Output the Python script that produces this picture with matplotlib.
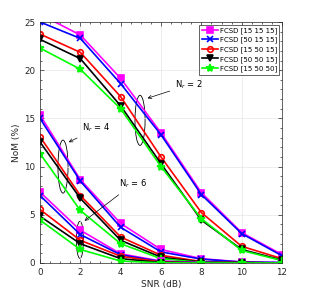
import numpy as np
import matplotlib.pyplot as plt
from matplotlib.patches import Ellipse

snr = [0, 2, 4, 6, 8, 10, 12]
labels = ['FCSD [15 15 15]', 'FCSD [50 15 15]', 'FCSD [15 50 15]',
          'FCSD [50 50 15]', 'FCSD [15 50 50]']
colors = ['#ff00ff', '#0000ff', '#ff0000', '#000000', '#00ff00']
markers = ['s', 'x', 'o', 'v', '*']

# NoM (%) for Nr = 2
nr2 = [[25.8, 23.65, 19.15, 13.5, 7.3, 3.15, 0.87],
       [25.0, 23.3, 18.6, 13.3, 7.1, 3.05, 0.75],
       [23.75, 21.85, 17.25, 11.0, 5.23, 1.73, 0.45],
       [23.2, 21.2, 16.3, 10.3, 4.45, 1.4, 0.3],
       [22.3, 20.1, 16.0, 10.0, 4.6, 1.3, 0.25]]
# Nr = 4
nr4 = [[15.35, 8.65, 4.1, 1.4, 0.45, 0.1, 0.05],
       [15.0, 8.5, 3.7, 1.15, 0.4, 0.1, 0.05],
       [13.1, 7.0, 2.7, 0.8, 0.15, 0.05, 0.0],
       [12.55, 6.7, 2.35, 0.6, 0.1, 0.05, 0.0],
       [11.35, 5.45, 2.0, 0.45, 0.05, 0.02, 0.0]]
# Nr = 6
nr6 = [[7.35, 3.4, 0.95, 0.2, 0.05, 0.02, 0.0],
       [7.0, 2.95, 0.85, 0.15, 0.04, 0.02, 0.0],
       [5.55, 2.35, 0.7, 0.1, 0.02, 0.0, 0.0],
       [4.85, 2.0, 0.45, 0.05, 0.0, 0.0, 0.0],
       [4.45, 1.4, 0.2, 0.02, 0.0, 0.0, 0.0]]

fig = plt.figure(figsize=(3.11, 2.95), dpi=100)
ax = fig.add_axes([0.1286, 0.1085, 0.7782, 0.8169])

for group in [nr2, nr4, nr6]:
    for i in range(5):
        lab = labels[i] if group is nr2 else None
        ms = 4
        if markers[i] == '*':
            ms = 6
        fc = 'none' if markers[i] == 'o' else colors[i]
        ax.plot(snr, group[i], color=colors[i], marker=markers[i], lw=1.2,
                ms=ms, mew=1.2, mfc=fc, label=lab)

ax.set_xlim(0, 12)
ax.set_ylim(0, 25)
ax.set_xticks(snr)
ax.set_yticks([0, 5, 10, 15, 20, 25])
ax.minorticks_on()
ax.tick_params(which='both', direction='in', top=True, right=True,
               labelsize=6.3, colors='#262626', width=0.5)
ax.tick_params(which='major', length=3)
ax.tick_params(which='minor', length=1.5)
ax.grid(True, which='major', color='#e6e6e6', lw=0.5)
for s in ax.spines.values():
    s.set_color('#262626')
    s.set_linewidth(0.5)
ax.set_xlabel('SNR (dB)', fontsize=6.5, labelpad=2, color='#262626')
ax.set_ylabel('NoM (%)', fontsize=6.5, labelpad=2, color='#262626')

# ellipses and annotations
for cx, cy, w, h in [(4.96, 14.8, 0.5, 5.2), (1.14, 10.0, 0.5, 5.5),
                     (1.98, 2.4, 0.35, 3.85)]:
    ax.add_patch(Ellipse((cx, cy), w, h, fill=False, lw=0.6, color='k'))

ax.annotate('N$_r$ = 2', xy=(5.2, 17.0), xytext=(6.7, 18.2), fontsize=6,
            arrowprops=dict(arrowstyle='->', lw=0.5, color='k'))
ax.annotate('N$_r$ = 4', xy=(1.3, 12.4), xytext=(2.1, 13.7), fontsize=6,
            arrowprops=dict(arrowstyle='->', lw=0.5, color='k'))
ax.annotate('N$_r$ = 6', xy=(2.1, 4.2), xytext=(3.9, 7.9), fontsize=6,
            arrowprops=dict(arrowstyle='->', lw=0.5, color='k'))

leg = ax.legend(loc='upper right', fontsize=5, fancybox=False,
                edgecolor='#262626', framealpha=1, borderpad=0.35,
                labelspacing=0.4, handlelength=2.4, handletextpad=0.2,
                borderaxespad=0.4)
leg.get_frame().set_linewidth(0.5)

fig.savefig('out.png', dpi=100)
